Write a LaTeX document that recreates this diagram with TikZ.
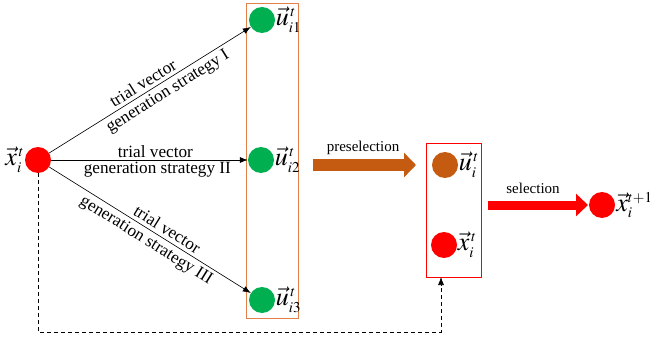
\documentclass[tikz,border=0pt]{standalone}
\usepackage{mathptmx}
\usepackage{fontspec}
\setmainfont{Liberation Serif}
\usetikzlibrary{arrows.meta}
\DeclareMathSizes{26}{26}{15}{10}
\definecolor{boxorange}{RGB}{226,128,72}
\definecolor{dotgreen}{RGB}{0,176,80}
\definecolor{dotorange}{RGB}{197,90,17}
\begin{document}
\begin{tikzpicture}[x=1pt,y=-1pt,
  dot/.style={circle,minimum size=26pt,inner sep=0pt},
  mlab/.style={inner sep=0.5pt,font=\fontsize{26}{28}\selectfont},
  slab/.style={font=\fontsize{17.2}{19}\selectfont,inner sep=3.5pt},
  alab/.style={font=\fontsize{15}{17}\selectfont,inner sep=0pt},
  conn/.style={-{Latex[length=8pt,width=6pt]},line width=0.6pt}]
\useasboundingbox (0,0) rectangle (650,339);
% boxes
\draw[boxorange,line width=0.8pt] (246,3) rectangle (298,318);
\draw[red,line width=0.6pt] (426,143) rectangle (481,277);
% dots
\node[dot,fill=red] (x) at (38,160) {};
\node[mlab,anchor=east] (xl) at (x.west) {$\vec{x}_i^{\,t}$};
\node[dot,fill=dotgreen] (u1) at (262,20) {};
\node[mlab,anchor=west] (u1l) at (u1.east) {$\vec{u}_{i1}^{\,t}$};
\node[dot,fill=dotgreen] (u2) at (261,160) {};
\node[mlab,anchor=west] (u2l) at (u2.east) {$\vec{u}_{i2}^{\,t}$};
\node[dot,fill=dotgreen] (u3) at (262,300) {};
\node[mlab,anchor=west] (u3l) at (u3.east) {$\vec{u}_{i3}^{\,t}$};
\node[dot,fill=dotorange] (ui) at (445,165) {};
\node[mlab,anchor=west] (uil) at (ui.east) {$\vec{u}_{i}^{\,t}$};
\node[dot,fill=red] (xi) at (444,245) {};
\node[mlab,anchor=west] (xil) at (xi.east) {$\vec{x}_{i}^{\,t}$};
\node[dot,fill=red] (xn) at (602,205) {};
\node[mlab,anchor=west,inner sep=0pt] (xnl) at ([xshift=1pt]xn.east) {$\vec{x}_{i}^{t+1}$};
% strategy arrows
\draw[conn] (x) -- (u1)
  node[slab,sloped,above,pos=0.49] {trial vector}
  node[slab,sloped,below,pos=0.56] {generation strategy I};
\draw[conn] (x) -- (u2)
  node[slab,above,pos=0.53,inner sep=2pt] {trial vector}
  node[slab,below,pos=0.54,inner sep=2pt] {generation strategy II};
\draw[conn] (x) -- (u3)
  node[slab,sloped,above,pos=0.56] {trial vector}
  node[slab,sloped,below,pos=0.51] {generation strategy III};
% big arrows
\coordinate (p1) at (313,165);
\coordinate (p2) at (416,165);
\draw[dotorange,line width=12pt,-{Triangle[length=12pt 0 0,width=24pt 0 0]}] (p1) -- (p2);
\node[alab] (pl) at (363,148) {preselection};
\coordinate (s1) at (488,205);
\coordinate (s2) at (588,205);
\draw[red,line width=9pt,-{Triangle[length=12pt 0 0,width=22pt 0 0]}] (s1) -- (s2);
\node[alab] (sl) at (533,188) {selection};
% dashed feedback
\coordinate (d1) at (38,332);
\coordinate (d2) at (441,332);
\coordinate (d3) at (441,277);
\draw[dashed,dash pattern=on 4pt off 3pt,line width=0.6pt,-{Latex[length=8pt,width=6pt]}]
  (x.south) -- (d1) -- (d2) -- (d3);
\end{tikzpicture}
\end{document}
